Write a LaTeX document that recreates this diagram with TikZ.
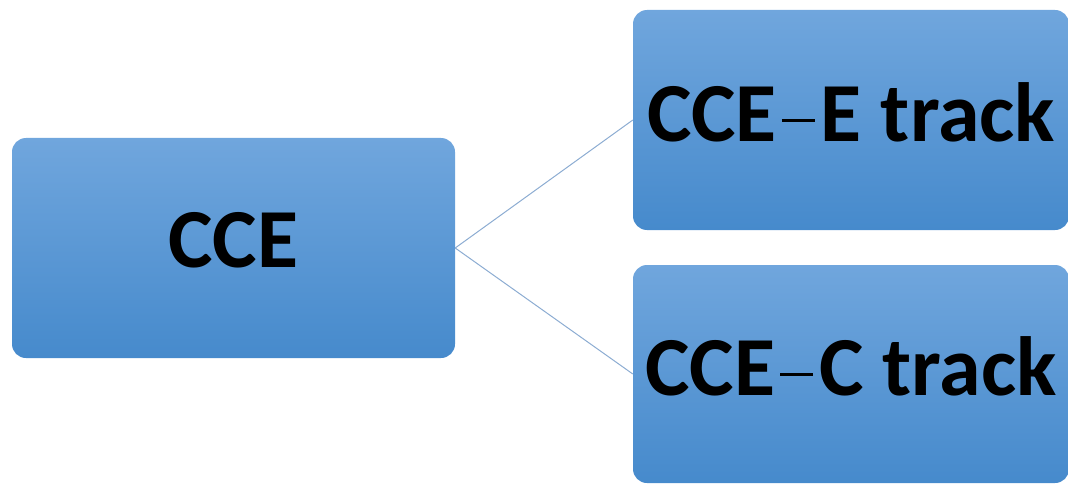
\documentclass[tikz,border=0pt]{standalone}
\usepackage{fontspec}
\setmainfont{Carlito}
\usepackage{tikz}
\usetikzlibrary{positioning}
\definecolor{boxtop}{RGB}{112,166,221}
\definecolor{boxbot}{RGB}{70,138,204}
\definecolor{linkcol}{RGB}{140,172,210}
\tikzstyle{blk}=[rectangle, rounded corners=14pt, top color=boxtop,
                bottom color=boxbot, draw=none, text=black,
                font=\fontsize{84}{90}\selectfont\bfseries, text depth=16pt,
                inner sep=0pt]
\tikzstyle{link}=[draw=linkcol, line width=1pt]
\newcommand{\thinminus}{\hspace{5pt}\rule[19pt]{33pt}{3pt}\hspace{6pt}}

\begin{document}
\begin{tikzpicture}[x=1pt,y=-1pt]
\def \bh {220pt} % height of all boxes
\useasboundingbox (0,0) rectangle (1068,484);

\node[blk, minimum width=443pt, minimum height=\bh] at (233.5,248) (cce) {CCE};
\node[blk, minimum width=436pt, minimum height=\bh] at (851,120) (ecce) {CCE\thinminus E track};
\node[blk, minimum width=436pt, minimum height=218pt] at (851,374) (ccce) {CCE\thinminus C track};

\draw[link] (cce.east) -- (ecce.west);
\draw[link] (cce.east) -- (ccce.west);
\end{tikzpicture}
\end{document}
